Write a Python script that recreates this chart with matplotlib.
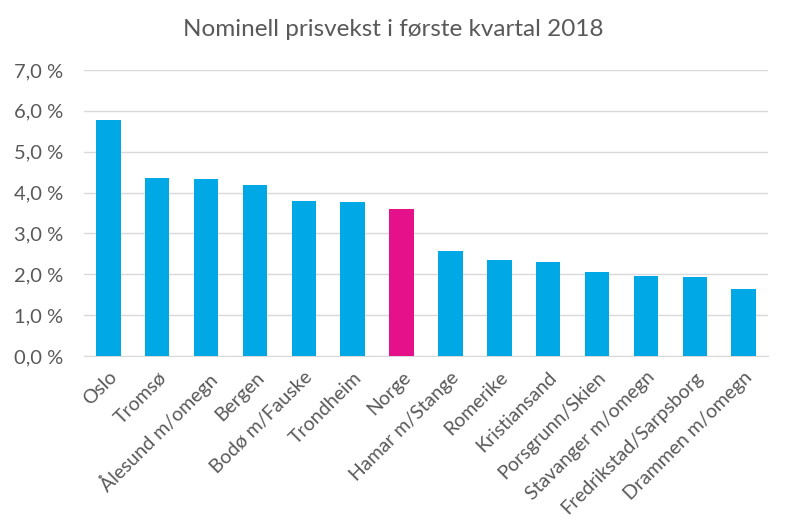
import numpy as np
import matplotlib.pyplot as plt
from matplotlib.ticker import FuncFormatter

# Nominell prisvekst i første kvartal 2018
steder = ["Oslo", "Tromsø", "Ålesund m/omegn", "Bergen", "Bodø m/Fauske",
          "Trondheim", "Norge", "Hamar m/Stange", "Romerike", "Kristiansand",
          "Porsgrunn/Skien", "Stavanger m/omegn", "Fredrikstad/Sarpsborg",
          "Drammen m/omegn"]
vekst = [5.78, 4.36, 4.34, 4.19, 3.80, 3.77, 3.60, 2.57, 2.35, 2.30,
         2.06, 1.96, 1.94, 1.64]
y_ticks = [0, 1, 2, 3, 4, 5, 6, 7]

blue = "#00A8E6"
pink = "#E5118A"
grey = "#595959"

plt.rcParams['font.family'] = ['Lato', 'DejaVu Sans']

fig = plt.figure(figsize=(7.87, 5.26), dpi=100)
ax = fig.add_axes([0.1067, 0.3232, 0.8692, 0.5437])

x = np.arange(len(steder))
colors = [pink if s == "Norge" else blue for s in steder]
ax.bar(x, vekst, width=0.5, color=colors, zorder=3)

ax.set_xlim(-0.5, len(steder) - 0.5)
ax.set_ylim(0, 7)
ax.set_yticks(y_ticks)
ax.yaxis.set_major_formatter(FuncFormatter(lambda v, p: f"{v:.1f} %".replace(".", ",")))
ax.grid(axis="y", color="#D9D9D9", linewidth=1, zorder=0)
for s in ["top", "right", "left"]:
    ax.spines[s].set_visible(False)
ax.spines["bottom"].set_color("#D9D9D9")
ax.tick_params(axis="both", length=0, colors=grey)
ax.tick_params(axis="y", pad=15, labelsize=14.5)
ax.tick_params(axis="x", pad=9)

ax.set_xticks(x)
ax.set_xticklabels(steder, rotation=45, ha="right", rotation_mode="anchor", fontsize=14)

fig.text(0.5, 0.943, "Nominell prisvekst i første kvartal 2018", ha="center",
         va="center", fontsize=17.5, color=grey)

fig.savefig("out.png", dpi=100)
